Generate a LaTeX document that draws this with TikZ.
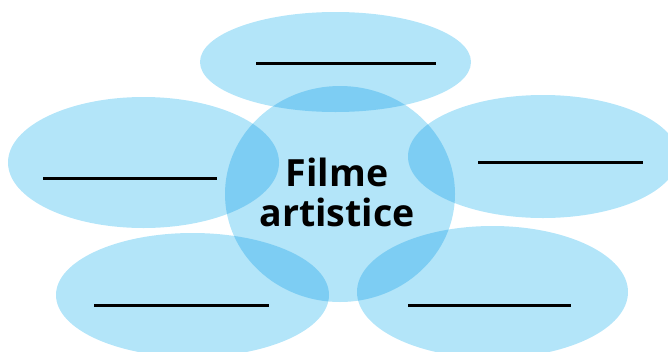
\documentclass[tikz,border=0pt]{standalone}
\usepackage{fontspec}
\setmainfont{Open Sans}
\usetikzlibrary{shapes.geometric}
\definecolor{bubblefill}{RGB}{179,229,249}
\begin{document}
\begin{tikzpicture}[x=1pt,y=-1pt,
  bubble/.style={ellipse, fill=bubblefill, draw=none, inner sep=0pt},
  blank/.style={line width=3pt, black},
  title/.style={font=\bfseries\fontsize{37.5}{40}\selectfont, align=center, inner sep=0pt, text=black}]
\useasboundingbox (0,0) rectangle (668,351);
\begin{scope}[blend group=multiply]
  \node[bubble, minimum width=271pt, minimum height=100pt] (top) at (335.5,62) {};
  \node[bubble, minimum width=271pt, minimum height=131pt] (left) at (143.5,162.5) {};
  \node[bubble, minimum width=270pt, minimum height=123pt] (right) at (543,156.5) {};
  \node[bubble, minimum width=273pt, minimum height=124pt] (botleft) at (192.5,295) {};
  \node[bubble, minimum width=271pt, minimum height=132pt] (botright) at (492.5,292) {};
  \node[bubble, minimum width=230pt, minimum height=216pt] (center) at (340,194) {};
\end{scope}
\node[title] (label) at (337,192.5) {Filme\\artistice};
\draw[blank] (256,63) -- (436,63);
\draw[blank] (43,178) -- (217,178);
\draw[blank] (478,162) -- (643,162);
\draw[blank] (94,305) -- (269,305);
\draw[blank] (408,305) -- (571,305);
\end{tikzpicture}
\end{document}
